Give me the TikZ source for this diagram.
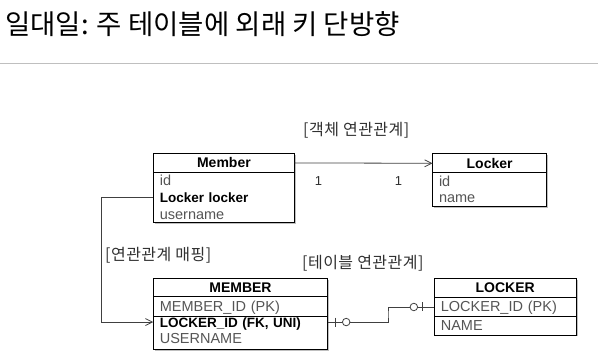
\documentclass[tikz,border=0pt]{standalone}
\usepackage{fontspec}
\setmainfont{Liberation Sans}
\newfontfamily\krfont{Noto Sans CJK KR}
\newfontfamily\krlabelfont[LetterSpace=3]{Noto Sans CJK KR}
\usepackage{xcolor}
\usepackage{tikz}
\usetikzlibrary{arrows.meta,positioning,fit,backgrounds,shadows}

\definecolor{rowtext}{HTML}{555555}
\definecolor{linkline}{HTML}{404040}
\definecolor{labeltext}{HTML}{303030}
\definecolor{rulegray}{HTML}{BFBFBF}

\begin{document}
\begin{tikzpicture}[x=1pt,y=-1pt,
tblhead/.style={
    rectangle, draw, line width=0.9pt,
    outer sep=0pt, inner sep=0pt,
    minimum width=#1,
    minimum height=19pt,
    text height=10pt, text depth=0pt,
    font=\fontsize{14}{16}\selectfont\bfseries
},
tblrow/.style={
    rectangle, outer sep=0pt,
    inner xsep=6.5pt, inner ysep=0pt,
    text width=#1,
    minimum height=16.7pt,
    align=left,
    text height=10pt, text depth=0pt,
    text=rowtext,
    font=\fontsize{14.5}{16}\selectfont
},
rowkey/.style={text=black, font=\fontsize{13.5}{16}\selectfont\bfseries},
tblframe/.style={
    rectangle, draw, line width=0.9pt, fill=white,
    inner sep=0pt,
    drop shadow={shadow xshift=1.5pt, shadow yshift=-1.5pt, opacity=0.5}
},
krlabel/.style={anchor=west, inner sep=0pt, text=labeltext, font=\krlabelfont\fontsize{16}{18}\selectfont},
card/.style={inner sep=0pt, text=labeltext, font=\fontsize{13}{15}\selectfont},
objarr/.style={-{Straight Barb[length=7pt,width=7pt]}, draw=linkline, line width=0.8pt},
link/.style={draw=linkline, line width=0.8pt},
zeroone/.style={circle, draw=linkline, line width=0.8pt, fill=white, inner sep=0pt, minimum size=7.5pt}
]
\useasboundingbox (0,0) rectangle (598,358);

% title
\node[anchor=west, inner sep=0pt, font=\krfont\fontsize{27.5}{32}\selectfont] (title) at (5,24) {일대일: 주 테이블에 외래 키 단방향};
\draw[rulegray, line width=1pt] (0,63.3) -- (598,63.3);

% object model
\node[tblhead=141.2pt] (memberhead) at (223.9,162.9) {Member};
\node[tblrow=128.2pt, below=0pt of memberhead] (memberid) {id};
\node[tblrow=128.2pt, rowkey, below=0pt of memberid] (memberlocker) {Locker locker};
\node[tblrow=128.2pt, below=0pt of memberlocker] (membername) {username};

\node[tblhead=114.2pt] (lockerhead) at (489.6,163.3) {Locker};
\node[tblrow=101.2pt, below=0pt of lockerhead] (lockerid) {id};
\node[tblrow=101.2pt, below=0pt of lockerid] (lockername) {name};

% table model
\node[tblhead=174.4pt, minimum height=17.7pt] (MEMBERhead) at (240.5,287.2) {MEMBER};
\node[tblrow=161.4pt, draw, line width=0.9pt, minimum height=20pt, below=0pt of MEMBERhead] (memberpk) {MEMBER\_ID (PK)};
\node[tblrow=161.4pt, rowkey, minimum height=12pt, below=0pt of memberpk] (memberfk) {LOCKER\_ID (FK, UNI)};
\node[tblrow=161.4pt, minimum height=21pt, below=0pt of memberfk] (memberuser) {USERNAME};

\node[tblhead=141.7pt] (LOCKERhead) at (505.2,287.8) {LOCKER};
\node[tblrow=128.7pt, draw, line width=0.9pt, minimum height=19.4pt, below=0pt of LOCKERhead] (lockerpk) {LOCKER\_ID (PK)};
\node[tblrow=128.7pt, minimum height=18.3pt, below=0pt of lockerpk] (lockercol) {NAME};

\begin{scope}[on background layer]
\node[tblframe, fit=(memberhead)(membername)] (member) {};
\node[tblframe, fit=(lockerhead)(lockername)] (locker) {};
\node[tblframe, fit=(MEMBERhead)(memberuser)] (MEMBER) {};
\node[tblframe, fit=(LOCKERhead)(lockercol)] (LOCKER) {};
\end{scope}

% labels
\node[krlabel] (objlabel) at (303,130) {[객체 연관관계]};
\node[krlabel] (maplabel) at (105,255) {[연관관계 매핑]};
\node[krlabel] (tbllabel) at (302,263) {[테이블 연관관계]};
\node[card] (cardleft) at (318.5,181) {1};
\node[card] (cardright) at (398.5,181) {1};

% connectors
\draw[objarr] (memberhead.east) -- (lockerhead.west);

\coordinate (mapbend) at (101.5,250);
\draw[objarr] (memberlocker.west) -| (mapbend) |- (memberfk.west);

\coordinate (tablejog) at (388,314);
\draw[link] (memberfk.east) -| (tablejog) |- (lockerpk.west);
\draw[link] ([xshift=8pt]memberfk.east) ++(0,-4.5) -- ++(0,9);
\node[zeroone] (memberzero) at ([xshift=18.5pt]memberfk.east) {};
\draw[link] ([xshift=-11.5pt]lockerpk.west) ++(0,-4.5) -- ++(0,9);
\node[zeroone] (lockerzero) at ([xshift=-20.5pt]lockerpk.west) {};

\end{tikzpicture}
\end{document}
